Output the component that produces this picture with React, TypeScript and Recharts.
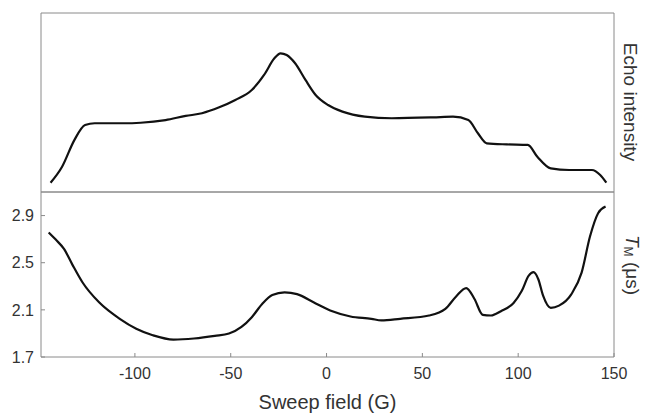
import React from 'react';
import { LineChart, Line, XAxis, YAxis } from 'recharts';

// top panel: echo intensity (arbitrary units, 0..1)
const ECHO_FIELD = [
  -144, -138, -131.6, -126, -121, -106, -97, -84, -73.5, -65, -56, -47.6, -39, -32.6, -27.2, -24,
  -20.8, -16.4, -11, -5.7, 0.8, 8.3, 20, 34, 55.6, 66, 74, 79, 83.6, 94, 105, 110, 117, 126.6,
  138.5, 142.8, 146,
];
const ECHO = [
  0.052, 0.141, 0.29, 0.374, 0.384, 0.384, 0.387, 0.402, 0.425, 0.44, 0.473, 0.514, 0.57, 0.654,
  0.747, 0.775, 0.765, 0.719, 0.626, 0.542, 0.486, 0.449, 0.421, 0.412, 0.417, 0.421, 0.402,
  0.328, 0.272, 0.266, 0.263, 0.197, 0.132, 0.123, 0.123, 0.095, 0.052,
];

// bottom panel: phase memory time T_M (us)
const TM_FIELD = [
  -145, -141.3, -137, -132.7, -127.3, -118.7, -107.9, -99.3, -90.7, -79.9, -69.2, -58.3, -50.9,
  -44.4, -39, -33.6, -28.3, -21.9, -15.4, -6.8, 1.9, 12.5, 23.4, 28.6, 38.4, 53.5, 62, 67.5, 72.9,
  77.2, 81.5, 85.8, 91, 97.6, 101.9, 105.5, 108, 110.5, 113, 117, 121.3, 127.8, 133.1, 137.5, 141.7,
  145.6,
];
const TM = [
  2.757, 2.696, 2.617, 2.486, 2.332, 2.164, 2.024, 1.94, 1.885, 1.848, 1.857, 1.879, 1.899, 1.955,
  2.038, 2.15, 2.226, 2.248, 2.234, 2.164, 2.094, 2.044, 2.024, 2.01, 2.024, 2.052, 2.108, 2.212,
  2.285, 2.192, 2.058, 2.052, 2.089, 2.159, 2.262, 2.39, 2.42, 2.36, 2.22, 2.117, 2.136, 2.234,
  2.416, 2.724, 2.92, 2.976,
];

const X_TICKS = [-100, -50, 0, 50, 100, 150];
const TM_TICKS = [1.7, 2.1, 2.5, 2.9];

const echoData = ECHO_FIELD.map((f, i) => ({ field: f, echo: ECHO[i] }));
const tmData = TM_FIELD.map((f, i) => ({ field: f, tm: TM[i] }));

const FRAME = '#8a8a8a';
const TEXT = '#333';
const FONT = '"Liberation Sans", Arial, sans-serif';
const X_DOMAIN: [number, number] = [-149, 150];

const sideLabel: React.CSSProperties = {
  position: 'absolute',
  writingMode: 'vertical-rl',
  fontFamily: FONT,
  fontSize: 19,
  color: TEXT,
  whiteSpace: 'nowrap',
  transform: 'translate(-50%, -50%)',
};

export default function App() {
  return (
    <div style={{ position: 'absolute', left: 0, top: 0, width: 645, height: 414, background: '#fff' }}>
      <div style={{ position: 'absolute', left: 0, top: 0 }}>
        <LineChart width={645} height={414} data={tmData} margin={{ top: 172, right: 1, bottom: 0, left: 1 }}>
          <XAxis
            type="number"
            dataKey="field"
            domain={X_DOMAIN}
            ticks={X_TICKS}
            allowDataOverflow
            height={57}
            stroke={FRAME}
            tickSize={-4}
            tickMargin={15}
            tick={{ fill: TEXT, fontSize: 16, fontFamily: FONT }}
            label={{ value: 'Sweep field (G)', position: 'insideBottom', offset: 5, fill: TEXT, fontSize: 20, fontFamily: FONT }}
          />
          <XAxis xAxisId="t" orientation="top" type="number" dataKey="field" domain={X_DOMAIN} height={20} stroke={FRAME} tick={false} tickLine={false} />
          <YAxis
            type="number"
            domain={[1.7, 3.1]}
            ticks={TM_TICKS}
            width={40}
            stroke={FRAME}
            tickSize={-4}
            tickMargin={11}
            tickFormatter={(v: number) => v.toFixed(1)}
            tick={{ fill: TEXT, fontSize: 16, fontFamily: FONT }}
          />
          <YAxis
            yAxisId="r"
            orientation="right"
            type="number"
            domain={[1.7, 3.1]}
            ticks={[2.1, 2.5, 2.9]}
            width={30}
            stroke={FRAME}
            tickSize={-4}
            tickFormatter={() => ''}
          />
          <Line type="monotone" dataKey="tm" stroke="#111" strokeWidth={2.2} dot={false} isAnimationActive={false} />
        </LineChart>
      </div>
      <div style={{ position: 'absolute', left: 0, top: 0 }}>
        <LineChart width={645} height={200} data={echoData} margin={{ top: 0, right: 1, bottom: 0, left: 1 }}>
          <XAxis type="number" dataKey="field" domain={X_DOMAIN} height={8} stroke={FRAME} tick={false} tickLine={false} />
          <XAxis xAxisId="t" orientation="top" type="number" dataKey="field" domain={X_DOMAIN} height={13} stroke={FRAME} tick={false} tickLine={false} />
          <YAxis type="number" domain={[0, 1]} width={40} stroke={FRAME} tick={false} tickLine={false} />
          <YAxis yAxisId="r" orientation="right" type="number" domain={[0, 1]} width={30} stroke={FRAME} tick={false} tickLine={false} />
          <Line type="monotone" dataKey="echo" stroke="#111" strokeWidth={2.2} dot={false} isAnimationActive={false} />
        </LineChart>
      </div>
      <div style={{ ...sideLabel, left: 630, top: 102 }}>Echo intensity</div>
      <div style={{ ...sideLabel, left: 632, top: 265 }}>
        <i>T</i>
        <span style={{ fontSize: 12, verticalAlign: 'sub' }}>M</span> (μs)
      </div>
    </div>
  );
}
